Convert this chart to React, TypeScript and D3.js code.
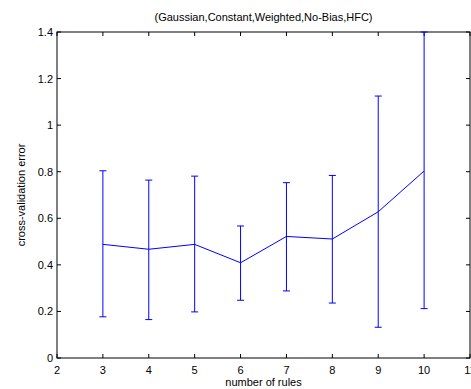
import React from "react";
import * as d3 from "d3";

// number of rules
const rules = [3, 4, 5, 6, 7, 8, 9, 10];
// mean cross-validation error
const meanErr = [0.488, 0.467, 0.488, 0.409, 0.522, 0.511, 0.628, 0.803];
// error bar limits
const upperErr = [0.804, 0.764, 0.781, 0.567, 0.753, 0.784, 1.125, 1.4];
const lowerErr = [0.177, 0.165, 0.198, 0.248, 0.288, 0.236, 0.132, 0.212];

const xTicks = [2, 3, 4, 5, 6, 7, 8, 9, 10, 11];
const yTicks = [0, 0.2, 0.4, 0.6, 0.8, 1, 1.2, 1.4];

const W = 471;
const H = 389;
const left = 57;
const right = 470;
const top = 32;
const bottom = 358;

const App = () => {
  const x = d3.scaleLinear().domain([2, 11]).range([left, right]);
  const y = d3.scaleLinear().domain([0, 1.4]).range([bottom, top]);
  const line = d3
    .line<number>()
    .x((d, i) => x(rules[i]))
    .y((d) => y(d));
  const font = "Arial, 'Liberation Sans', sans-serif";
  const blue = "#0000ff";
  const cap = 3.5;
  const tick = 4;

  return (
    <svg
      width={W}
      height={H}
      style={{ position: "absolute", left: 0, top: 0, background: "#fff" }}
      fontFamily={font}
      fontSize={11}
    >
      <rect x={0} y={0} width={W} height={H} fill="#fff" />
      {/* ticks */}
      {xTicks.map((t) => (
        <g key={"x" + t}>
          <line x1={x(t)} x2={x(t)} y1={bottom} y2={bottom - tick} stroke="#000" />
          <line x1={x(t)} x2={x(t)} y1={top} y2={top + tick} stroke="#000" />
          <text x={x(t)} y={bottom + 16} textAnchor="middle" fill="#000">
            {t}
          </text>
        </g>
      ))}
      {yTicks.map((t) => (
        <g key={"y" + t}>
          <line x1={left} x2={left + tick} y1={y(t)} y2={y(t)} stroke="#000" />
          <line x1={right} x2={right - tick} y1={y(t)} y2={y(t)} stroke="#000" />
          <text x={left - 4} y={y(t) + 4} textAnchor="end" fill="#000">
            {t}
          </text>
        </g>
      ))}
      <rect
        x={left}
        y={top}
        width={right - left}
        height={bottom - top}
        fill="none"
        stroke="#000"
      />
      {/* error bars */}
      {rules.map((r, i) => (
        <g key={"e" + r} stroke={blue} strokeWidth={1}>
          <line x1={x(r)} x2={x(r)} y1={y(upperErr[i])} y2={y(lowerErr[i])} />
          <line x1={x(r) - cap} x2={x(r) + cap} y1={y(upperErr[i])} y2={y(upperErr[i])} />
          <line x1={x(r) - cap} x2={x(r) + cap} y1={y(lowerErr[i])} y2={y(lowerErr[i])} />
        </g>
      ))}
      <path d={line(meanErr) || ""} fill="none" stroke={blue} strokeWidth={1} />
      <text x={(left + right) / 2} y={21} textAnchor="middle" fill="#000">
        (Gaussian,Constant,Weighted,No-Bias,HFC)
      </text>
      <text x={(left + right) / 2} y={386} textAnchor="middle" fill="#000">
        number of rules
      </text>
      <text
        transform={`translate(25,${(top + bottom) / 2}) rotate(-90)`}
        textAnchor="middle"
        fill="#000"
      >
        cross-validation error
      </text>
    </svg>
  );
};

export default App;
